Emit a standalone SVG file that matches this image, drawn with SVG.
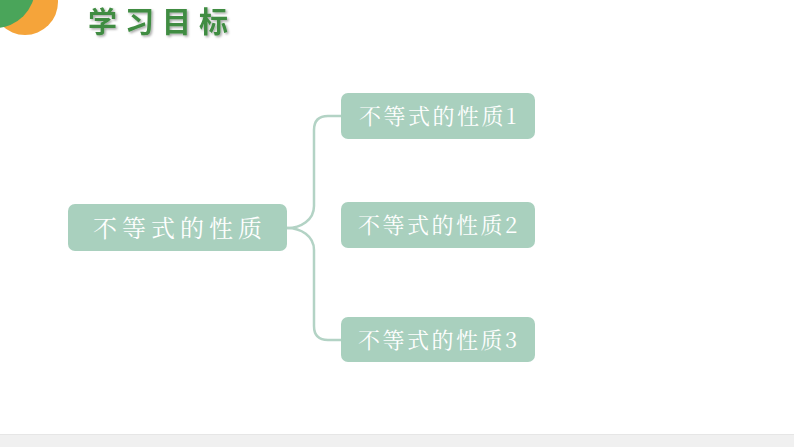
<svg xmlns="http://www.w3.org/2000/svg" width="794" height="447" viewBox="0 0 794 447">
<defs>
<style>
.node rect{fill:#a9d0be;}
.main text{font-family:"Noto Serif CJK SC","Noto Sans CJK SC",serif;font-size:24px;fill:#ffffff;letter-spacing:5px;}
.child text{font-family:"Noto Serif CJK SC","Noto Sans CJK SC",serif;font-size:22px;fill:#ffffff;letter-spacing:2.5px;}
.conn path{fill:none;stroke:#b3d3c5;stroke-width:2.5;}
.title{font-family:"Noto Sans CJK SC",sans-serif;font-weight:bold;font-size:29px;fill:#3f8c42;letter-spacing:8px;}
</style>
<filter id="sh" filterUnits="userSpaceOnUse" x="70" y="0" width="180" height="48">
<feDropShadow dx="1.5" dy="1.5" stdDeviation="0.8" flood-color="#000" flood-opacity="0.35"/>
</filter>
</defs>
<rect width="794" height="447" fill="#ffffff"/>
<g id="decor">
<circle cx="25" cy="2" r="33" fill="#f5a43a"/>
<circle cx="-5" cy="-12" r="40" fill="#4aa55a"/>
</g>
<g filter="url(#sh)">
<text class="title" x="88" y="33">学习目标</text>
</g>
<g id="connectors" class="conn">
<path d="M287,228 C301,228 314,220 314,206 L314,130 Q314,116 328,116 L341,116"/>
<path d="M287,228 C301,228 314,236 314,250 L314,326 Q314,340 328,340 L341,340"/>
</g>
<g id="main" class="node main">
<rect x="68" y="204" width="219" height="47" rx="7"/>
<text x="180" y="237" text-anchor="middle">不等式的性质</text>
</g>
<g id="child1" class="node child">
<rect x="341" y="93" width="194" height="46" rx="7"/>
<text x="439" y="124" text-anchor="middle">不等式的性质1</text>
</g>
<g id="child2" class="node child">
<rect x="341" y="202" width="194" height="46" rx="7"/>
<text x="439" y="233" text-anchor="middle">不等式的性质2</text>
</g>
<g id="child3" class="node child">
<rect x="341" y="317" width="194" height="45" rx="7"/>
<text x="439" y="348" text-anchor="middle">不等式的性质3</text>
</g>
<g id="footer">
<rect x="0" y="435" width="794" height="12" fill="#f0f0f0"/>
<line x1="0" y1="434.5" x2="794" y2="434.5" stroke="#e6e6e6" stroke-width="1"/>
</g>
</svg>
